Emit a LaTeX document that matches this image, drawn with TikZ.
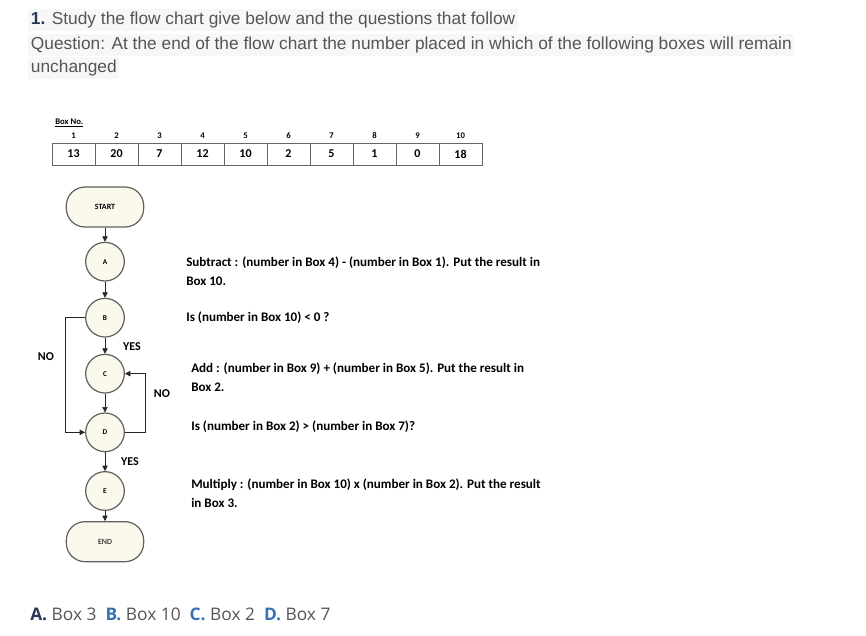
\documentclass[tikz,border=0pt]{standalone}
\usepackage{fontspec}
\setmainfont{Carlito}
\newfontfamily\headfont{Liberation Sans}
\newfontfamily\answerfont{Open Sans}
\usepackage{tikz}
\usetikzlibrary{shapes, arrows.meta, positioning}
\definecolor{shapefill}{RGB}{250,249,236}
\definecolor{headgray}{RGB}{85,85,85}
\definecolor{navy}{RGB}{40,55,85}
\definecolor{optblue}{RGB}{55,115,180}
\tikzstyle{heading} = [anchor=west, inner sep=2pt, fill=black!3,
    text=headgray, font=\headfont\fontsize{13}{15}\selectfont]
\tikzstyle{terminal} = [rectangle, rounded corners=14pt, draw=gray!75!black, line width=0.9pt,
    fill=shapefill, minimum width=58pt, minimum height=30pt, font=\bfseries\fontsize{6}{7}\selectfont]
\tikzstyle{stepcircle} = [circle, draw=gray!75!black, line width=0.9pt, fill=shapefill,
    minimum size=29pt, inner sep=0pt, font=\bfseries\fontsize{5.5}{6}\selectfont]
\tikzstyle{cell} = [rectangle, draw=gray!80!black, minimum width=32.25pt,
    minimum height=16.5pt, inner sep=0pt, font=\bfseries\fontsize{9}{10}\selectfont]
\tikzstyle{boxno} = [inner sep=0pt, font=\bfseries\fontsize{6.5}{7}\selectfont]
\tikzstyle{note} = [anchor=west, align=left, inner sep=0pt,
    font=\bfseries\fontsize{9.8}{14}\selectfont]
\tikzstyle{answer} = [anchor=west, inner sep=0pt, text=headgray,
    font=\answerfont\fontsize{13}{15}\selectfont]
\tikzstyle{branch} = [inner sep=0pt, font=\bfseries\fontsize{9}{10}\selectfont]
\tikzstyle{line} = [draw=gray!30!black, -{Triangle[width=4pt,length=4pt]}]

\begin{document}
\begin{tikzpicture}[x=0.75pt, y=-0.75pt, node distance=43pt]
    \useasboundingbox (0,0) rectangle (866,635);
    % Question
    \node [heading] (head1) at (28,20) {\textbf{\textcolor{navy}{1.}} Study the flow chart give below and the questions that follow};
    \node [heading] (head2) at (28,45) {Question: At the end of the flow chart the number placed in which of the following boxes will remain};
    \node [heading] (head3) at (28,68) {unchanged};
    % Boxes
    \node [boxno, anchor=west] (boxno) at (55,123) {\underline{Box No.}};
    \foreach \i/\v in {1/13, 2/20, 3/7, 4/12, 5/10, 6/2, 7/5, 8/1, 9/0, 10/18} {
        \node [cell] (cell\i) at (52+43*\i-21.5,154) {\v};
        \node [boxno] (num\i) at (52+43*\i-21.5,136) {\i};
    }
    % Flow chart
    \node [terminal] (start) at (105,207) {START};
    \node [stepcircle, below of=start, node distance=41pt] (a) {A};
    \node [stepcircle, below of=a, node distance=42pt] (b) {B};
    \node [stepcircle, below of=b, node distance=42pt] (c) {C};
    \node [stepcircle, below of=c, node distance=44pt] (d) {D};
    \node [stepcircle, below of=d, node distance=44pt] (e) {E};
    \node [terminal, below of=e, node distance=38pt, font=\fontsize{6}{7}\selectfont] (end) {END};
    \node [branch] (yes1) at (132,347) {YES};
    \node [branch] (no1) at (46,357) {NO};
    \node [branch] (no2) at (162,394) {NO};
    \node [branch] (yes2) at (130,462) {YES};
    % Edges
    \path [line] (start) -- (a);
    \path [line] (a) -- (b);
    \path [line] (b) -- (c);
    \path [line] (c) -- (d);
    \path [line] (d) -- (e);
    \path [line] (e) -- (end);
    \path [line] (b.west) -- ++(-20,0) |- (d.west);
    \path [line] (d.east) -- ++(20,0) |- (c.east);
    % Notes
    \node [note] (notea) at (186,271) {Subtract : (number in Box 4) - (number in Box 1). Put the result in\\Box 10.};
    \node [note] (noteb) at (186,318) {Is (number in Box 10) {<} 0 ?};
    \node [note] (notec) at (191,377) {Add : (number in Box 9) + (number in Box 5). Put the result in\\Box 2.};
    \node [note] (noted) at (191,427) {Is (number in Box 2) {>} (number in Box 7)?};
    \node [note] (notee) at (191,493) {Multiply : (number in Box 10) x (number in Box 2). Put the result\\in Box 3.};
    % Options
    \node [answer] (options) at (30,614) {\textbf{\textcolor{navy}{A.}} Box 3\ \ \textbf{\textcolor{optblue}{B.}} Box 10\ \ \textbf{\textcolor{optblue}{C.}} Box 2\ \ \textbf{\textcolor{optblue}{D.}} Box 7};
\end{tikzpicture}
\end{document}
